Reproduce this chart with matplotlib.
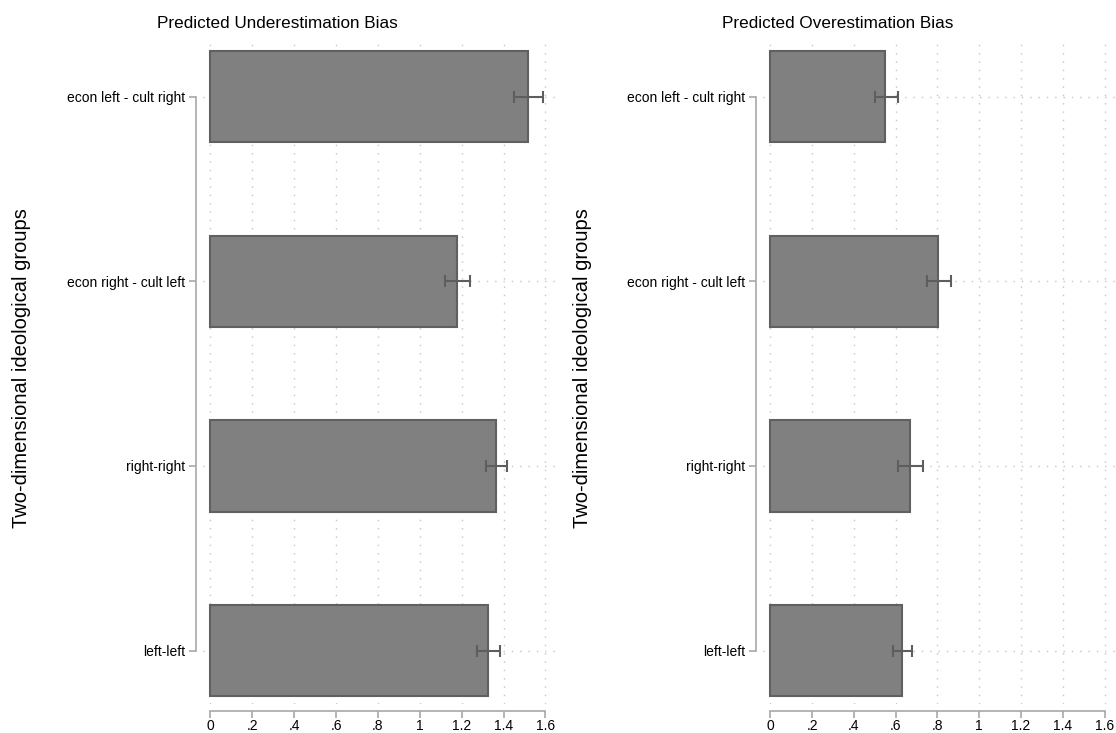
import matplotlib
matplotlib.use("Agg")
import matplotlib.pyplot as plt
import numpy as np

plt.rcParams['font.family'] = ['Liberation Sans', 'DejaVu Sans']

categories = ["left-left", "right-right", "econ right - cult left", "econ left - cult right"]
under_vals = [1.327, 1.363, 1.177, 1.518]
under_lo = [1.272, 1.314, 1.120, 1.451]
under_hi = [1.382, 1.416, 1.242, 1.590]
over_vals = [0.631, 0.671, 0.804, 0.551]
over_lo = [0.588, 0.611, 0.748, 0.499]
over_hi = [0.680, 0.731, 0.863, 0.610]
xticks = [0, 0.2, 0.4, 0.6, 0.8, 1.0, 1.2, 1.4, 1.6]
xticklabels = ["0", ".2", ".4", ".6", ".8", "1", "1.2", "1.4", "1.6"]
titles = ["Predicted Underestimation Bias", "Predicted Overestimation Bias"]
ylabel = "Two-dimensional ideological groups"

W, H = 1116, 733
fig = plt.figure(figsize=(W / 100, H / 100), dpi=100)

panels = [
    (203, 557, under_vals, under_lo, under_hi),
    (763, 1116, over_vals, over_lo, over_hi),
]
top_px, bot_px = 38, 704
spine_col = '#a8a8a8'
grid_col = '#c4c4c4'

for i, (x0, x1, vals, lo, hi) in enumerate(panels):
    ax = fig.add_axes([x0 / W, 1 - bot_px / H, (x1 - x0) / W, (bot_px - top_px) / H])
    y = np.arange(len(categories))
    ax.barh(y, vals, height=0.495, color='#808080', edgecolor='#606060', linewidth=1.5, zorder=3)
    v = np.array(vals)
    err = np.vstack([v - np.array(lo), np.array(hi) - v])
    ax.errorbar(vals, y, xerr=err, fmt='none', ecolor='#5e5e5e', elinewidth=1.5,
                capsize=4.5, capthick=1.5, zorder=4)
    ax.set_xlim(-0.035, 1.655)
    ax.set_ylim(-0.289, 3.318)
    ax.set_xticks(xticks)
    ax.set_xticklabels(xticklabels, fontsize=12.5)
    ax.set_yticks(y)
    ax.set_yticklabels(categories, fontsize=11.3)
    for xv in xticks:
        ax.axvline(xv, color=grid_col, linestyle=(0, (1, 5)), linewidth=1.0, zorder=1)
    for yv in y:
        ax.axhline(yv, color=grid_col, linestyle=(0, (1, 5)), linewidth=1.0, zorder=1)
    for s in ['top', 'right']:
        ax.spines[s].set_visible(False)
    ax.spines['left'].set_position(('outward', 5))
    ax.spines['bottom'].set_position(('outward', 5))
    ax.spines['left'].set_bounds(0, 3)
    ax.spines['bottom'].set_bounds(0, 1.6)
    for s in ['left', 'bottom']:
        ax.spines[s].set_color(spine_col)
        ax.spines[s].set_linewidth(1.2)
    ax.tick_params(axis='y', direction='out', length=5, width=1.2, color=spine_col,
                   labelcolor='black', pad=3)
    ax.tick_params(axis='x', direction='out', length=5, width=1.2, color=spine_col,
                   labelcolor='black', pad=0.5)
    ax.set_facecolor('none')
    cx = 277 if i == 0 else 838
    fig.text(cx / W, 1 - 23 / H, titles[i], ha='center', va='center', fontsize=12.3)
    lx = 22 if i == 0 else 582
    fig.text(lx / W, 1 - 368 / H, ylabel, ha='center', va='center', rotation=90, fontsize=14.5)

fig.savefig("out.png", dpi=100)
